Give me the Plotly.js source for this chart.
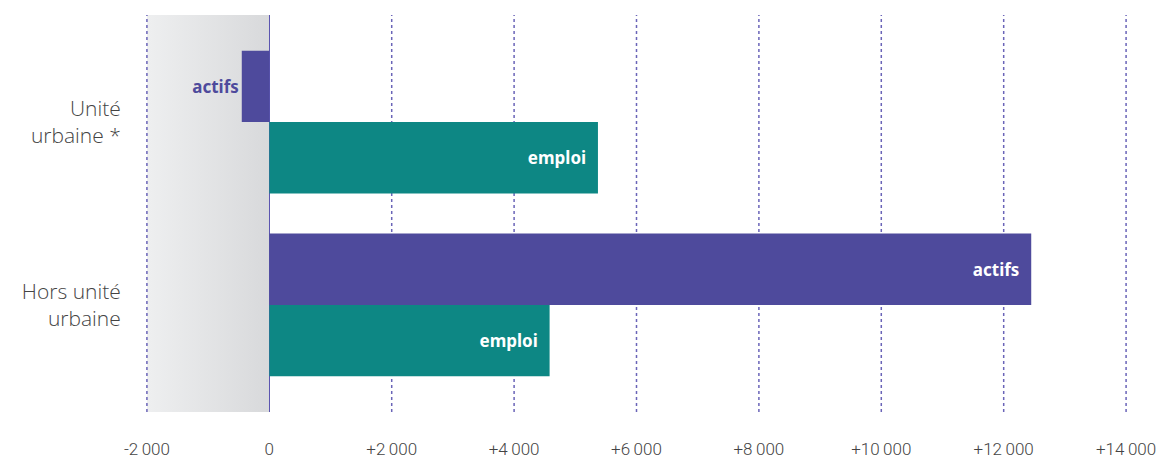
<!DOCTYPE html>
<html>
<head>
<meta charset="utf-8">
<script src="https://cdn.plot.ly/plotly-3.0.1.min.js"></script>
<style>html,body{margin:0;padding:0;background:#fff;}#chart{width:1165px;height:459px;}</style>
</head>
<body>
<div id="chart"></div>
<script>
const categories = ["Unité<br>urbaine *", "Hors unité<br>urbaine"];
const actifs = [-450, 12450];
const emploi = [5370, 4580];
const tickVals = [-2000, 0, 2000, 4000, 6000, 8000, 10000, 12000, 14000];
const tickText = ["-2\u2009000", "0", "+2\u2009000", "+4\u2009000", "+6\u2009000", "+8\u2009000", "+10\u2009000", "+12\u2009000", "+14\u2009000"];
const shadeRange = [-2000, 0];

const purple = "#4e4a9c";
const teal = "#0d8784";
const gridColor = "#6a64b8";

const gradSvg = '<svg xmlns="http://www.w3.org/2000/svg" width="100" height="100" preserveAspectRatio="none"><defs><linearGradient id="g" x1="0" x2="1" y1="0" y2="0"><stop offset="0" stop-color="#eeeff0"/><stop offset="1" stop-color="#d8d9db"/></linearGradient></defs><rect width="100" height="100" fill="url(#g)"/></svg>';
const gradUrl = "data:image/svg+xml;base64," + btoa(gradSvg);

const labelFont = {size: 17, family: "Noto Sans", weight: 700};

const traces = [
  {
    type: "bar", orientation: "h", name: "actifs",
    y: categories, x: actifs,
    marker: {color: purple},
    text: actifs.map(v => v < 0 ? "actifs" : "actifs\u00a0\u00a0"),
    textposition: actifs.map(v => v < 0 ? "outside" : "inside"),
    insidetextanchor: "end",
    insidetextfont: Object.assign({color: "#ffffff"}, labelFont),
    outsidetextfont: Object.assign({color: purple}, labelFont),
    cliponaxis: false,
    hoverinfo: "skip"
  },
  {
    type: "bar", orientation: "h", name: "emploi",
    y: categories, x: emploi,
    marker: {color: teal},
    text: emploi.map(() => "emploi\u00a0\u00a0"),
    textposition: "inside",
    insidetextanchor: "end",
    insidetextfont: Object.assign({color: "#ffffff"}, labelFont),
    hoverinfo: "skip"
  }
];

const gridShapes = tickVals.filter(v => v !== 0).map(v => ({
  type: "line", xref: "x", yref: "paper", x0: v, x1: v, y0: 0, y1: 1,
  layer: "below", line: {color: gridColor, width: 1.5, dash: "3px,3px"}
}));

const layout = {
  width: 1165, height: 459,
  margin: {l: 146, r: 38, t: 15, b: 47},
  paper_bgcolor: "#ffffff", plot_bgcolor: "rgba(0,0,0,0)",
  showlegend: false,
  barmode: "group", bargap: 0.22, bargroupgap: 0,
  font: {family: "Roboto", color: "#444444"},
  xaxis: {
    range: [-2015, 14015],
    tickvals: tickVals, ticktext: tickText,
    showgrid: false,
    zeroline: true, zerolinecolor: "#5b55b0", zerolinewidth: 1.5,
    ticks: "outside", ticklen: 22, tickcolor: "rgba(0,0,0,0)",
    tickfont: {size: 17, family: "Roboto", weight: 300, color: "#444444"},
    showline: false, fixedrange: true
  },
  yaxis: {
    type: "category",
    range: [1.585, -0.585],
    showgrid: false, zeroline: false, showline: false,
    ticks: "outside", ticklen: 20, tickcolor: "rgba(0,0,0,0)",
    tickfont: {size: 21, family: "Open Sans", weight: 300, color: "#444444"},
    fixedrange: true
  },
  shapes: gridShapes,
  images: [{
    source: gradUrl, xref: "x", yref: "paper",
    x: shadeRange[0], y: 1, sizex: shadeRange[1] - shadeRange[0], sizey: 1,
    sizing: "stretch", layer: "below", xanchor: "left", yanchor: "top"
  }]
};

Plotly.newPlot("chart", traces, layout, {staticPlot: true, displayModeBar: false});
</script>
</body>
</html>
